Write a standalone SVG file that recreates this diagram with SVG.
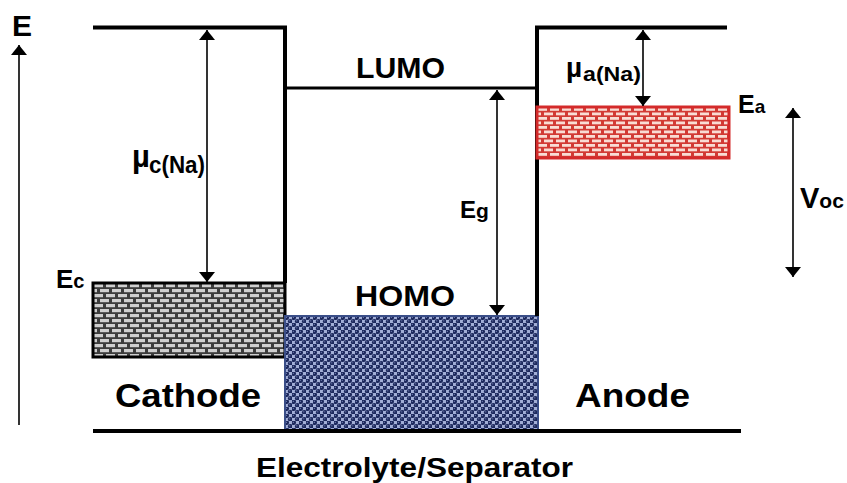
<svg xmlns="http://www.w3.org/2000/svg" width="847" height="483" viewBox="0 0 847 483">
<style>
  .t { font-family: "Liberation Sans", Arial, sans-serif; font-weight: bold; fill: #000; }
  .frame { fill: none; stroke: #000; stroke-width: 4; stroke-linejoin: miter; }
  .arr { fill: none; stroke: #000; stroke-width: 1.6; marker-start: url(#head); marker-end: url(#head); }
</style>
<defs>
  <marker id="head" viewBox="0 0 10 16" refX="10" refY="8" markerWidth="10" markerHeight="16" markerUnits="userSpaceOnUse" orient="auto-start-reverse">
    <path d="M0,0 L10,8 L0,16 z" fill="#000"/>
  </marker>
  <pattern id="grayBrick" x="93" y="283" width="12" height="10" patternUnits="userSpaceOnUse">
    <rect width="12" height="10" fill="#3c3c3c"/>
    <rect x="1" y="1" width="9" height="3.2" fill="#cfcfcf"/>
    <rect x="7" y="6" width="9" height="3.2" fill="#cfcfcf"/>
    <rect x="-5" y="6" width="9" height="3.2" fill="#cfcfcf"/>
  </pattern>
  <pattern id="redBrick" x="537" y="107" width="12" height="9" patternUnits="userSpaceOnUse">
    <rect width="12" height="9" fill="#d23a34"/>
    <rect x="1" y="1" width="9" height="2.8" fill="#f9dcd4"/>
    <rect x="7" y="5.5" width="9" height="2.8" fill="#f9dcd4"/>
    <rect x="-5" y="5.5" width="9" height="2.8" fill="#f9dcd4"/>
  </pattern>
  <pattern id="blueDots" x="285" y="316" width="7" height="7" patternUnits="userSpaceOnUse">
    <rect width="7" height="7" fill="#a2aed6"/>
    <circle cx="1.75" cy="1.75" r="2.3" fill="#1c285c"/>
    <circle cx="5.25" cy="5.25" r="2.3" fill="#1c285c"/>
    <circle cx="1.3" cy="1.3" r="0.6" fill="#7f8cc0"/>
    <circle cx="4.8" cy="4.8" r="0.6" fill="#7f8cc0"/>
  </pattern>
</defs>

<g id="energy-axis">
  <line x1="19" y1="425" x2="19" y2="45" stroke="#000" stroke-width="1.6" marker-end="url(#head)"/>
  <text class="t" x="12" y="36" font-size="30">E</text>
</g>

<g id="cathode">
  <path class="frame" d="M93,27.5 H285 V283"/>
  <rect x="93" y="283" width="192" height="74" fill="url(#grayBrick)" stroke="#000" stroke-width="3"/>
  <text class="t" x="56" y="288" font-size="26">E<tspan font-size="20">c</tspan></text>
  <text class="t" x="115" y="407" font-size="34" textLength="146" lengthAdjust="spacingAndGlyphs">Cathode</text>
</g>

<g id="electrolyte">
  <line x1="285" y1="88" x2="537" y2="88" stroke="#000" stroke-width="3"/>
  <rect x="285" y="316" width="253" height="116" fill="url(#blueDots)" stroke="#3a4e88" stroke-width="2"/>
  <text class="t" x="356" y="78" font-size="30" textLength="89" lengthAdjust="spacingAndGlyphs">LUMO</text>
  <text class="t" x="355" y="306" font-size="30" textLength="100" lengthAdjust="spacingAndGlyphs">HOMO</text>
  <text class="t" x="256" y="477" font-size="28" textLength="317" lengthAdjust="spacingAndGlyphs">Electrolyte/Separator</text>
</g>

<g id="anode">
  <path class="frame" d="M727,27.5 H537 V316"/>
  <rect x="537" y="107" width="192" height="51" fill="url(#redBrick)" stroke="#d42a2a" stroke-width="3"/>
  <text class="t" x="738" y="113" font-size="25">E<tspan font-size="19">a</tspan></text>
  <text class="t" x="575" y="407" font-size="34" textLength="115" lengthAdjust="spacingAndGlyphs">Anode</text>
</g>

<g id="baseline">
  <line x1="93" y1="431" x2="741" y2="431" stroke="#000" stroke-width="4"/>
</g>

<g id="connectors">
  <line class="arr" x1="207" y1="30" x2="207" y2="282"/>
  <line class="arr" x1="497" y1="90" x2="497" y2="315"/>
  <line class="arr" x1="643" y1="30" x2="643" y2="106"/>
  <line class="arr" x1="793" y1="108" x2="793" y2="277"/>
</g>

<g id="labels">
  <text class="t" x="132" y="167" font-size="31">µ</text>
  <text class="t" x="149" y="173" font-size="23" textLength="56" lengthAdjust="spacingAndGlyphs">c(Na)</text>
  <text class="t" x="566" y="77" font-size="28">µ</text>
  <text class="t" x="583" y="81" font-size="21" textLength="58" lengthAdjust="spacingAndGlyphs">a(Na)</text>
  <text class="t" x="460" y="218" font-size="24">E<tspan font-size="21">g</tspan></text>
  <text class="t" x="800" y="208" font-size="29">V<tspan font-size="21">oc</tspan></text>
</g>
</svg>
